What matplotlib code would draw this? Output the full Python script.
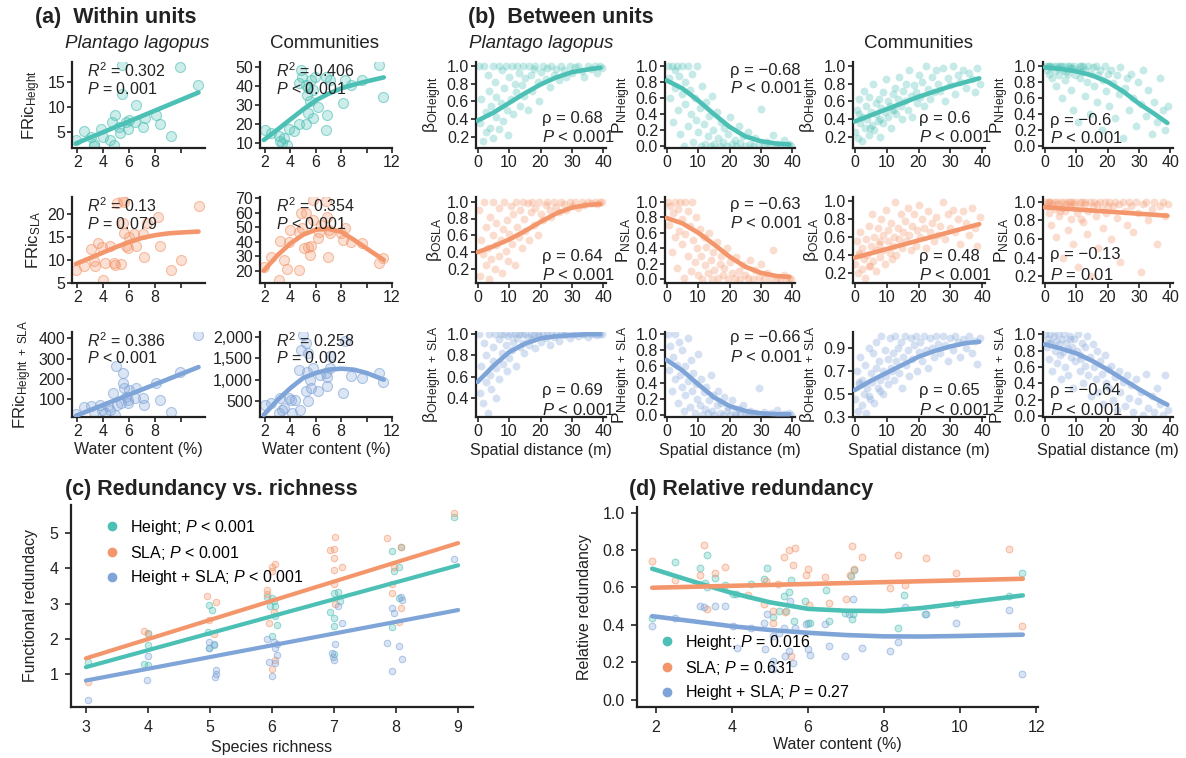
import matplotlib
matplotlib.use('Agg')
import matplotlib.pyplot as plt
from matplotlib.colors import to_rgba
from matplotlib.ticker import FormatStrFormatter, FuncFormatter
from matplotlib.lines import Line2D

plt.rcParams['font.family'] = ['Liberation Sans', 'DejaVu Sans']
plt.rcParams['mathtext.fontset'] = 'custom'
plt.rcParams['mathtext.rm'] = 'Liberation Sans'
plt.rcParams['mathtext.it'] = 'Liberation Sans:italic'
plt.rcParams['mathtext.bf'] = 'Liberation Sans:bold'

TEAL = '#4dc0b5'
ORANGE = '#f4966b'
BLUE = '#7fa4d8'
INK = '#222222'

# ---------------- (a) within units: water content vs FRic ----------------
a_pl_h_x = [1.9, 2.5, 3.1, 3.3, 3.3, 3.8, 4.0, 4.5, 4.7, 4.85, 4.95, 5.2, 5.3, 5.45, 5.45, 5.8, 5.9, 6.0,
            6.45, 6.5, 7.1, 7.2, 8.1, 8.4, 9.2, 9.9, 11.3]
a_pl_h_y = [3.4, 5.3, 4.1, 2.7, 2.3, 5.7, 4.1, 3.4, 7.1, 2.4, 8.4, 6.1, 4.9, 18.4, 12.7, 7.1, 5.7, 7.4,
            7.1, 10.4, 6.1, 7.8, 8.4, 6.7, 4.3, 18.1, 14.4]
a_com_h_x = [2.0, 2.5, 3.1, 3.2, 3.35, 3.5, 3.7, 3.9, 4.3, 4.7, 4.7, 4.8, 4.9, 5.2, 5.2, 5.3, 5.4, 5.4,
             5.55, 5.65, 5.8, 5.8, 5.9, 6.15, 6.8, 6.8, 6.9, 7.1, 8.1, 8.3, 8.8, 9.6, 11.0, 11.3]
a_com_h_y = [16.7, 15.0, 13.4, 11.0, 10.0, 12.6, 9.0, 17.4, 16.0, 41.3, 20.0, 48.3, 44.8, 40.5, 20.0,
             35.2, 38.7, 25.4, 32.1, 43.1, 37.9, 22.8, 44.8, 28.9, 44.8, 16.7, 24.6, 43.1, 30.9, 43.1,
             40.5, 43.1, 50.9, 34.2]
a_pl_sla_x = [1.9, 2.5, 3.1, 3.3, 3.35, 3.6, 3.9, 4.0, 4.15, 4.5, 4.85, 4.9, 5.05, 5.4, 5.5, 5.5, 5.6,
              5.6, 5.8, 5.9, 6.0, 6.4, 6.5, 7.1, 7.15, 7.4, 8.2, 8.4, 9.2, 10.0, 11.35]
a_pl_sla_y = [7.8, 8.6, 12.4, 9.8, 8.6, 13.6, 12.9, 5.5, 9.4, 13.1, 9.3, 8.8, 22.4, 9.1, 23.1, 18.0, 22.8,
              15.8, 13.1, 12.5, 15.1, 15.6, 13.0, 15.6, 10.7, 18.0, 19.3, 13.0, 7.7, 9.9, 21.9]
a_com_sla_x = [1.95, 2.5, 3.1, 3.2, 3.5, 3.7, 3.85, 4.0, 4.7, 4.7, 4.8, 4.9, 5.05, 5.2, 5.4, 5.55, 5.65,
               5.75, 5.75, 6.15, 6.25, 6.4, 6.8, 6.9, 6.95, 7.0, 7.1, 8.0, 8.1, 8.3, 8.8, 9.6, 11.0, 11.3]
a_com_sla_y = [22.5, 29.3, 13.8, 40.9, 27.8, 21.6, 40.2, 48.3, 47.1, 20.5, 59.8, 49.4, 35.6, 59.8, 36.8,
               31.1, 37.2, 69.1, 55.2, 42.5, 47.1, 51.7, 67.9, 57.5, 29.9, 48.3, 46.4, 46.0, 41.4, 49.4,
               40.2, 39.5, 25.2, 28.6]
a_pl_hs_x = [1.9, 2.5, 3.1, 3.3, 3.75, 3.9, 4.15, 4.4, 4.5, 4.75, 4.9, 5.0, 5.1, 5.4, 5.5, 5.5, 5.6, 5.8,
             5.9, 5.9, 6.0, 6.45, 6.5, 7.1, 7.15, 8.1, 8.4, 9.2, 9.9, 11.3]
a_pl_hs_y = [28, 59, 64, 39, 72, 47, 34, 64, 47, 130, 20, 261, 72, 80, 228, 179, 154, 113, 80, 97, 146,
             105, 154, 105, 72, 182, 97, 39, 236, 417]
a_com_hs_x = [2.0, 2.5, 3.1, 3.2, 3.35, 3.5, 3.85, 4.05, 4.1, 4.35, 4.7, 4.75, 4.85, 4.95, 5.2, 5.2, 5.3,
              5.4, 5.4, 5.55, 5.65, 5.8, 6.15, 6.3, 6.8, 6.9, 6.9, 7.1, 7.1, 8.1, 8.3, 8.8, 9.6, 11.0, 11.3]
a_com_hs_y = [423, 476, 228, 577, 306, 345, 577, 539, 228, 539, 1237, 306, 1702, 2050, 1857, 732, 1175,
              1625, 500, 989, 810, 1276, 732, 1120, 1160, 1059, 850, 1276, 1547, 694, 1896, 1082, 1043,
              1160, 942]

# fitted curves
fit_lin_x = [1.9, 11.35]
fit_curve_x = [1.9, 3, 4, 5, 6, 7, 8, 9, 10, 11.35]
fit_pl_h = [2.7, 12.9]
fit_com_h = [11.4, 17, 22.3, 27.5, 32.3, 35.8, 38.6, 40.6, 42.3, 44.4]
fit_pl_sla = [9.1, 10.4, 11.6, 12.8, 13.9, 14.8, 15.4, 15.8, 16.0, 16.2]
fit_com_sla = [20.3, 31, 39, 45, 48.5, 49, 47, 41.5, 35.5, 27.6]
fit_pl_hs = [18, 258]
fit_com_hs = [191, 540, 811, 1044, 1160, 1237, 1260, 1237, 1160, 1005]

# ---------------- (b) between units: spatial distance ----------------
dist_pl = [0.3, 0.9, 1.1, 1.8, 2.0, 2.6, 2.7, 3.3, 3.5, 4.1,
           4.2, 4.9, 5.0, 5.6, 5.8, 6.0, 6.7, 6.9, 7.4, 7.7,
           8.1, 8.3, 9.0, 9.2, 9.8, 10.0, 10.5, 10.9, 11.2, 11.8,
           12.1, 12.4, 13.2, 13.4, 14.0, 14.3, 14.9, 15.2, 15.9, 16.2,
           16.9, 17.3, 18.0, 18.4, 19.1, 19.5, 20.3, 20.7, 21.6, 22.0,
           22.9, 23.4, 24.3, 24.9, 25.9, 26.5, 27.5, 28.2, 29.3, 30.0,
           31.1, 31.9, 33.2, 33.8, 35.1, 35.9, 37.2, 37.8, 38.9, 39.6]
dist_com = [0.2, 0.7, 1.0, 1.4, 1.7, 2.2, 2.4, 2.9, 3.2, 3.6,
            3.9, 4.4, 4.6, 5.1, 5.4, 5.8, 6.1, 6.6, 6.8, 7.3,
            7.6, 8.0, 8.3, 8.8, 9.0, 9.5, 9.8, 10.3, 10.6, 11.1,
            11.4, 11.9, 12.2, 12.7, 13.0, 13.6, 13.9, 14.4, 14.8, 15.3,
            15.7, 16.2, 16.6, 17.1, 17.5, 18.1, 18.5, 19.1, 19.5, 20.1,
            20.6, 21.2, 21.7, 22.4, 22.9, 23.6, 24.1, 24.9, 25.4, 26.2,
            26.8, 27.6, 28.2, 29.1, 29.8, 30.7, 31.4, 32.3, 33.0, 34.0,
            34.8, 35.8, 36.6, 37.6, 38.4, 39.2,
            1.5, 4.8, 8.1, 11.6]

beta_h_pl = [1.0, 0.35, 0.62, 0.15, 1.0, 0.48, 0.25, 0.9, 0.72, 0.3, 0.55,
             1.0, 0.18, 0.82, 0.42, 0.65, 1.0, 0.28, 0.58, 0.95, 0.38,
             0.75, 1.0, 0.5, 0.22, 0.88, 0.62, 1.0, 0.45, 0.8, 0.7,
             1.0, 0.92, 0.55, 0.78, 1.0, 0.66, 0.86, 0.5, 1.0, 0.9,
             0.72, 0.96, 1.0, 0.82, 0.6, 0.93, 1.0, 0.85, 0.98, 0.76,
             1.0, 0.9, 0.97, 0.84, 1.0, 0.95, 0.88, 1.0, 0.92, 0.99,
             1.0, 0.94, 0.87, 1.0, 0.97, 1.0, 0.92, 1.0, 0.98]
pn_h_pl = [1.0, 0.85, 0.6, 1.0, 0.3, 0.95, 0.72, 1.0, 0.45, 0.88, 0.15,
           1.0, 0.65, 0.0, 0.8, 0.52, 1.0, 0.25, 0.7, 0.4, 0.9,
           0.05, 0.6, 0.33, 1.0, 0.18, 0.48, 0.0, 0.75, 0.28, 0.02,
           0.55, 0.12, 0.38, 0.0, 0.62, 0.2, 0.03, 0.42, 0.1, 0.0,
           0.3, 0.05, 0.22, 0.0, 0.15, 0.36, 0.02, 0.08, 0.0, 0.25,
           0.04, 0.12, 0.0, 0.18, 0.03, 0.0, 0.1, 0.02, 0.46, 0.0,
           0.05, 0.0, 0.14, 0.02, 0.0, 0.08, 0.0, 0.03, 0.0]
beta_sla_pl = [0.9, 0.12, 0.55, 0.38, 1.0, 0.25, 0.7, 0.45, 0.08, 0.82, 0.32,
               0.6, 1.0, 0.2, 0.48, 0.75, 0.35, 0.92, 0.55, 0.15, 0.68,
               1.0, 0.42, 0.78, 0.3, 0.62, 0.95, 0.5, 0.85, 0.25, 1.0,
               0.7, 0.58, 0.9, 0.45, 1.0, 0.8, 0.65, 0.98, 0.55, 0.88,
               1.0, 0.72, 0.93, 0.6, 1.0, 0.85, 0.78, 0.96, 1.0, 0.9,
               0.82, 1.0, 0.94, 0.88, 1.0, 0.97, 0.9, 1.0, 0.95, 0.99,
               0.92, 1.0, 0.96, 1.0, 0.98, 1.0, 0.97, 1.0, 1.0]
pn_sla_pl = [1.0, 0.7, 0.95, 0.35, 0.85, 1.0, 0.55, 0.15, 0.9, 0.62, 1.0,
             0.45, 0.78, 0.02, 1.0, 0.58, 0.3, 0.88, 0.68, 0.1, 1.0,
             0.5, 0.22, 0.8, 0.4, 0.05, 0.65, 0.3, 0.0, 0.55, 0.18,
             0.42, 0.08, 0.6, 0.25, 0.0, 0.35, 0.12, 0.48, 0.02, 0.2,
             0.3, 0.05, 0.15, 0.4, 0.0, 0.22, 0.08, 0.02, 0.28, 0.1,
             0.0, 0.18, 0.05, 0.02, 0.25, 0.0, 0.12, 0.03, 0.2, 0.0,
             0.08, 0.0, 0.38, 0.02, 0.0, 0.05, 0.0, 0.02, 0.0]
beta_hs_pl = [1.0, 0.45, 0.7, 0.35, 0.92, 0.55, 0.8, 0.26, 1.0, 0.62, 0.48,
              0.88, 0.75, 1.0, 0.4, 0.68, 0.95, 0.58, 1.0, 0.82, 0.72,
              1.0, 0.9, 0.65, 0.98, 0.78, 1.0, 0.85, 0.93, 1.0, 0.7,
              0.96, 1.0, 0.88, 1.0, 0.92, 0.82, 1.0, 0.97, 0.9, 1.0,
              0.95, 1.0, 0.87, 1.0, 0.98, 0.93, 1.0, 0.96, 1.0, 0.9,
              1.0, 0.97, 1.0, 0.94, 1.0, 0.99, 1.0, 0.96, 1.0, 1.0,
              0.98, 1.0, 1.0, 0.97, 1.0, 1.0, 0.99, 1.0, 1.0]
pn_hs_pl = [1.0, 0.55, 0.85, 0.3, 0.72, 1.0, 0.45, 0.62, 0.15, 0.9, 0.5,
            0.35, 0.8, 0.05, 0.6, 0.25, 0.95, 0.42, 0.1, 0.68, 0.3,
            0.52, 0.02, 0.38, 0.2, 0.75, 0.12, 0.45, 0.0, 0.28, 0.08,
            0.35, 0.02, 0.18, 0.5, 0.05, 0.25, 0.0, 0.12, 0.3, 0.02,
            0.15, 0.0, 0.22, 0.05, 0.1, 0.0, 0.18, 0.03, 0.0, 0.08,
            0.0, 0.12, 0.02, 0.0, 0.05, 0.0, 0.02, 0.33, 0.0, 0.04,
            0.0, 0.02, 0.0, 0.06, 0.0, 0.01, 0.0, 0.02, 0.0]

beta_h_com = [0.25, 0.5, 0.18, 0.62, 0.35, 0.42, 0.15, 0.72, 0.3, 0.55,
              0.4, 0.22, 0.65, 0.48, 0.33, 0.8, 0.27, 0.58, 0.45, 0.38,
              0.62, 0.2, 0.52, 0.7, 0.35, 0.48, 0.85, 0.42, 0.6, 0.55,
              0.3, 0.68, 0.5, 0.75, 0.45, 0.62, 0.88, 0.55, 0.4, 0.72,
              0.6, 0.8, 0.5, 0.95, 0.66, 0.42, 0.78, 0.7, 0.58, 0.9,
              0.65, 0.82, 0.55, 1.0, 0.74, 0.62, 0.88, 0.7, 0.95, 0.8,
              0.72, 0.98, 0.6, 0.86, 0.78, 1.0, 0.68, 0.9, 0.82, 0.95,
              0.75, 0.92, 0.85, 0.7, 0.98, 0.8,
              0.45, 0.3, 0.4, 0.5]
pn_h_com = [1.0, 0.95, 1.0, 0.9, 1.0, 0.98, 0.85, 1.0, 0.93, 0.75,
            1.0, 0.97, 0.88, 1.0, 0.6, 0.95, 1.0, 0.82, 0.92, 1.0,
            0.9, 1.0, 0.7, 0.97, 0.45, 1.0, 0.88, 0.95, 0.3, 1.0,
            0.85, 0.92, 1.0, 0.62, 0.95, 0.8, 1.0, 0.4, 0.9, 0.98,
            0.75, 1.0, 0.55, 0.88, 0.95, 0.2, 0.82, 1.0, 0.68, 0.9,
            0.5, 0.95, 0.78, 0.35, 0.88, 0.65, 0.98, 0.1, 0.72, 0.85,
            0.45, 0.9, 0.6, 0.25, 0.8, 0.52, 0.95, 0.38, 0.7, 0.15,
            0.55, 0.3, 0.85, 0.45, 0.2, 0.5,
            1.0, 1.0, 0.97, 1.0]
beta_sla_com = [0.3, 0.55, 0.2, 0.42, 0.65, 0.25, 0.48, 0.35, 0.15, 0.58,
                0.4, 0.72, 0.28, 0.5, 0.85, 0.33, 0.6, 0.45, 0.22, 0.7,
                0.52, 0.38, 0.8, 0.46, 0.62, 0.3, 0.9, 0.55, 0.68, 0.42,
                0.75, 0.5, 0.6, 0.98, 0.4, 0.7, 0.58, 0.85, 0.48, 0.65,
                0.78, 0.55, 0.92, 0.62, 0.45, 0.72, 0.85, 0.5, 0.68, 0.95,
                0.6, 0.8, 0.7, 0.48, 0.88, 0.65, 0.75, 0.55, 0.82, 0.62,
                0.72, 0.98, 0.58, 0.85, 0.7, 0.9, 0.65, 0.8, 0.52, 0.88,
                0.75, 0.62, 0.92, 0.7, 0.5, 0.82,
                0.4, 0.28, 0.55, 0.35]
pn_sla_com = [1.0, 0.95, 1.0, 0.88, 1.0, 0.75, 0.98, 1.0, 0.92, 0.62,
              1.0, 0.97, 0.85, 1.0, 0.93, 0.4, 1.0, 0.9, 0.98, 0.7,
              1.0, 0.95, 0.82, 1.0, 0.55, 0.97, 1.0, 0.88, 0.3, 1.0,
              0.93, 1.0, 0.78, 0.98, 1.0, 0.65, 0.9, 1.0, 0.2, 0.95,
              1.0, 0.85, 0.97, 0.5, 1.0, 0.92, 0.72, 1.0, 0.88, 0.95,
              1.0, 0.6, 0.95, 1.0, 0.83, 0.98, 0.35, 1.0, 0.9, 0.75,
              1.0, 0.95, 0.68, 1.0, 0.88, 0.25, 0.97, 1.0, 0.8, 0.92,
              1.0, 0.55, 0.95, 1.0, 0.85, 0.98,
              1.0, 0.9, 1.0, 0.82]
beta_hs_com = [0.45, 0.7, 0.35, 0.58, 0.82, 0.4, 0.62, 0.5, 0.75, 0.33,
               0.55, 0.9, 0.48, 0.68, 0.6, 0.85, 0.42, 0.72, 0.95, 0.55,
               0.78, 0.62, 1.0, 0.7, 0.5, 0.88, 0.65, 0.8, 0.58, 0.98,
               0.72, 0.85, 0.62, 1.0, 0.78, 0.9, 0.68, 0.95, 0.55, 0.82,
               1.0, 0.75, 0.88, 0.65, 0.98, 0.8, 0.92, 1.0, 0.7, 0.86,
               0.95, 0.78, 1.0, 0.88, 0.72, 0.98, 0.9, 0.82, 1.0, 0.93,
               0.85, 1.0, 0.92, 0.78, 0.98, 0.88, 1.0, 0.95, 0.82, 0.97,
               0.9, 1.0, 0.85, 0.96, 0.76, 0.98,
               0.6, 0.45, 0.52, 0.7]
pn_hs_com = [1.0, 0.85, 0.95, 0.7, 1.0, 0.9, 0.55, 0.98, 0.8, 0.92,
             0.65, 1.0, 0.88, 0.45, 0.95, 0.78, 1.0, 0.6, 0.9, 0.82,
             0.5, 0.98, 0.72, 0.85, 0.35, 0.95, 0.68, 0.8, 1.0, 0.55,
             0.75, 0.9, 0.4, 0.85, 0.62, 0.98, 0.5, 0.72, 0.25, 0.88,
             0.6, 0.45, 0.8, 0.3, 0.68, 0.52, 0.15, 0.75, 0.4, 0.58,
             0.35, 0.62, 0.2, 0.48, 0.08, 0.55, 0.3, 0.42, 0.12, 0.5,
             0.22, 0.38, 0.05, 0.45, 0.18, 0.3, 0.02, 0.52, 0.1, 0.25,
             0.05, 0.35, 0.15, 0.02, 0.5, 0.08,
             0.9, 0.75, 0.95, 0.7]

fit_d_x = [0, 5, 10, 15, 20, 25, 30, 35, 39]
fit_d_lin = [0, 39]
fit_beta_h_pl = [0.38, 0.47, 0.58, 0.69, 0.79, 0.87, 0.93, 0.96, 0.98]
fit_pn_h_pl = [0.82, 0.72, 0.57, 0.40, 0.24, 0.12, 0.06, 0.03, 0.02]
fit_beta_h_com = [0.37, 0.44, 0.51, 0.58, 0.65, 0.71, 0.77, 0.82, 0.86]
fit_pn_h_com = [0.98, 0.96, 0.93, 0.88, 0.80, 0.68, 0.53, 0.40, 0.29]
fit_beta_sla_pl = [0.40, 0.47, 0.55, 0.65, 0.76, 0.86, 0.93, 0.96, 0.97]
fit_pn_sla_pl = [0.79, 0.72, 0.60, 0.45, 0.29, 0.16, 0.08, 0.04, 0.03]
fit_beta_sla_com = [0.37, 0.74]
fit_pn_sla_com = [0.94, 0.85]
fit_beta_hs_pl = [0.55, 0.70, 0.83, 0.91, 0.96, 0.98, 0.99, 1.0, 1.0]
fit_pn_hs_pl = [0.68, 0.55, 0.38, 0.22, 0.11, 0.05, 0.02, 0.01, 0.01]
fit_beta_hs_com = [0.53, 0.61, 0.68, 0.75, 0.82, 0.87, 0.91, 0.94, 0.95]
fit_pn_hs_com = [0.88, 0.83, 0.77, 0.68, 0.57, 0.45, 0.33, 0.22, 0.14]

# ---------------- (c) redundancy vs richness ----------------
c_h_x = [3.04, 3.93, 4.0, 4.0, 4.0, 4.98, 5.04, 4.97, 5.07, 4.98, 5.92, 5.97, 6.0, 6.03, 6.05, 6.05,
         6.08, 6.0, 6.94, 7.0, 7.07, 7.0, 7.0, 7.0, 7.09, 7.94, 7.97, 8.05, 8.08, 7.94, 8.05, 8.93]
c_h_y = [1.36, 1.3, 1.25, 1.83, 2.16, 2.96, 2.81, 2.2, 1.83, 1.74, 3.2, 2.93, 3.17, 3.07, 2.93, 2.65,
         2.41, 2.08, 2.77, 3.29, 3.34, 2.6, 2.37, 1.57, 3.07, 4.5, 3.93, 4.03, 4.62, 2.35, 3.17, 5.45]
c_s_x = [3.04, 3.93, 4.0, 4.95, 5.1, 4.98, 5.07, 5.92, 5.92, 6.0, 6.05, 6.0, 6.03, 5.95, 6.05, 6.0,
         6.94, 7.0, 7.02, 7.0, 7.0, 7.13, 7.0, 7.02, 7.86, 8.08, 7.97, 7.94, 7.94, 8.08, 8.05, 8.93]
c_s_y = [0.79, 2.22, 2.13, 3.23, 3.05, 2.55, 2.14, 3.38, 3.27, 4.04, 4.13, 3.94, 2.77, 2.45, 1.41, 1.15,
         4.53, 4.55, 4.9, 4.3, 3.97, 4.05, 3.57, 2.98, 4.86, 4.62, 4.03, 3.57, 3.29, 2.89, 2.47, 5.57]
c_hs_x = [3.04, 3.98, 4.0, 4.98, 5.07, 4.98, 5.1, 5.1, 5.08, 5.92, 6.03, 6.08, 6.05, 6.08, 5.95, 6.05,
          6.0, 6.97, 6.99, 7.0, 7.01, 7.07, 7.13, 7.86, 7.94, 7.97, 8.08, 8.1, 8.05, 8.1, 7.94, 8.93]
c_hs_y = [0.27, 0.85, 1.51, 1.92, 1.87, 1.74, 1.13, 1.02, 0.93, 2.01, 1.92, 1.87, 1.74, 1.55, 1.36, 1.33,
          0.96, 1.6, 1.5, 1.4, 1.85, 2.93, 2.45, 1.89, 2.89, 2.73, 3.2, 3.1, 1.8, 1.42, 1.1, 4.26]
fit_c_x = [3, 9]
fit_c_h = [1.2, 4.09]
fit_c_s = [1.45, 4.72]
fit_c_hs = [0.82, 2.82]
c_labels = ['Height; $P$ < 0.001', 'SLA; $P$ < 0.001', 'Height + SLA; $P$ < 0.001']

# ---------------- (d) relative redundancy ----------------
d_h_x = [1.89, 2.51, 3.15, 3.33, 3.28, 3.54, 3.33, 3.81, 4.03, 4.11, 4.49, 4.85, 4.91, 5.07, 5.24, 5.38,
         5.42, 5.51, 5.55, 5.64, 5.93, 5.99, 6.04, 6.47, 6.55, 6.97, 7.12, 7.18, 7.16, 7.2, 8.36, 8.53,
         9.07, 9.88, 11.3, 11.62]
d_h_y = [0.434, 0.737, 0.702, 0.773, 0.624, 0.651, 0.604, 0.612, 0.566, 0.566, 0.62, 0.643, 0.702, 0.443,
         0.473, 0.553, 0.473, 0.575, 0.639, 0.42, 0.527, 0.411, 0.407, 0.584, 0.42, 0.465, 0.66, 0.46,
         0.429, 0.693, 0.384, 0.557, 0.459, 0.511, 0.553, 0.678]
d_s_x = [1.89, 2.51, 3.15, 3.25, 3.33, 3.54, 3.82, 4.43, 4.83, 4.89, 5.07, 5.07, 5.22, 5.38, 5.4, 5.51,
         5.6, 5.67, 5.55, 5.94, 6.01, 6.03, 6.45, 6.55, 6.99, 7.1, 7.16, 7.2, 7.43, 8.15, 8.36, 8.54,
         9.1, 9.9, 11.3, 11.62]
d_s_y = [0.741, 0.639, 0.664, 0.826, 0.485, 0.678, 0.71, 0.558, 0.509, 0.634, 0.411, 0.473, 0.616, 0.764,
         0.468, 0.8, 0.718, 0.809, 0.232, 0.664, 0.7, 0.505, 0.657, 0.518, 0.536, 0.664, 0.821, 0.696,
         0.762, 0.598, 0.775, 0.612, 0.759, 0.675, 0.804, 0.393]
d_hs_x = [1.89, 2.51, 3.15, 3.25, 3.54, 3.82, 4.03, 4.14, 4.5, 4.85, 4.88, 4.91, 5.07, 5.07, 5.07, 5.23,
          5.38, 5.4, 5.51, 5.52, 5.6, 5.67, 5.94, 6.01, 6.04, 6.45, 6.55, 6.97, 7.09, 7.19, 7.43, 8.15,
          8.36, 8.55, 9.1, 9.9, 11.3, 11.62]
d_hs_y = [0.393, 0.438, 0.503, 0.496, 0.503, 0.503, 0.393, 0.273, 0.38, 0.411, 0.268, 0.455, 0.161,
          0.205, 0.339, 0.354, 0.384, 0.232, 0.259, 0.527, 0.196, 0.384, 0.402, 0.268, 0.239, 0.405,
          0.286, 0.232, 0.46, 0.536, 0.277, 0.259, 0.309, 0.494, 0.455, 0.407, 0.478, 0.138]
fit_e_x = [1.9, 3, 4, 5, 6, 7, 8, 9, 10, 11.65]
fit_e_lin = [1.9, 11.65]
fit_d_h = [0.70, 0.63, 0.57, 0.52, 0.485, 0.475, 0.473, 0.49, 0.515, 0.557]
fit_d_s = [0.598, 0.646]
fit_d_hs = [0.446, 0.418, 0.392, 0.372, 0.357, 0.345, 0.338, 0.337, 0.34, 0.347]
d_labels = ['Height; $P$ = 0.016', 'SLA; $P$ = 0.631', 'Height + SLA; $P$ = 0.27']

# ---------------------------------------------------------------
W, H = 1186, 758
fig = plt.figure(figsize=(W / 100, H / 100), dpi=100)


def add_ax(l, t, r, b):
    return fig.add_axes([l / W, 1 - b / H, (r - l) / W, (b - t) / H])


def style(ax, size=11.5, pad=1.5, length=3.5):
    for s in ['top', 'right']:
        ax.spines[s].set_visible(False)
    for s in ['left', 'bottom']:
        ax.spines[s].set_linewidth(1.6)
        ax.spines[s].set_color(INK)
    ax.tick_params(direction='out', length=length, width=1.2, pad=pad, labelsize=size,
                   colors=INK)


def ftext(x, y, s, **kw):
    kw.setdefault('color', INK)
    kw.setdefault('va', 'center')
    fig.text(x / W, 1 - y / H, s, **kw)


# titles
ftext(35, 17, '(a)  Within units', fontsize=15.5, fontweight='bold')
ftext(468, 17, '(b)  Between units', fontsize=15.5, fontweight='bold')
ftext(65, 43, 'Plantago lagopus', fontsize=13.5, style='italic')
ftext(270, 43, 'Communities', fontsize=13.5)
ftext(469, 43, 'Plantago lagopus', fontsize=13.5, style='italic')
ftext(864, 43, 'Communities', fontsize=13.5)
ftext(65, 489, '(c) Redundancy vs. richness', fontsize=15.5, fontweight='bold')
ftext(629, 489, '(d) Relative redundancy', fontsize=15.5, fontweight='bold')

rows = [(62, 148), (197, 283), (332, 417)]
a_cols = [(72, 205), (260, 392)]
b_cols = [(476, 606), (665, 795), (853, 985), (1043, 1173)]

# ---------- (a) ----------
a_panels = [
    (0, 0, a_pl_h_x, a_pl_h_y, fit_lin_x, fit_pl_h, TEAL, (1.8, 19), [5, 10, 15],
     '$R^2$ = 0.302', '$P$ = 0.001', 'FRic$_{\\mathrm{Height}}$'),
    (0, 1, a_com_h_x, a_com_h_y, fit_curve_x, fit_com_h, TEAL, (7.2, 52.5), [10, 20, 30, 40, 50],
     '$R^2$ = 0.406', '$P$ < 0.001', None),
    (1, 0, a_pl_sla_x, a_pl_sla_y, fit_curve_x, fit_pl_sla, ORANGE, (4.9, 23.8), [5, 10, 15, 20],
     '$R^2$ = 0.13', '$P$ = 0.079', 'FRic$_{\\mathrm{SLA}}$'),
    (1, 1, a_com_sla_x, a_com_sla_y, fit_curve_x, fit_com_sla, ORANGE, (11.7, 71), [20, 30, 40, 50, 60, 70],
     '$R^2$ = 0.354', '$P$ < 0.001', None),
    (2, 0, a_pl_hs_x, a_pl_hs_y, fit_lin_x, fit_pl_hs, BLUE, (12, 431), [100, 200, 300, 400],
     '$R^2$ = 0.386', '$P$ < 0.001', 'FRic$_{\\mathrm{Height\\ +\\ SLA}}$'),
    (2, 1, a_com_hs_x, a_com_hs_y, fit_curve_x, fit_com_hs, BLUE, (140, 2110), [500, 1000, 1500, 2000],
     '$R^2$ = 0.258', '$P$ = 0.002', None),
]
a_text_x = [87, 276]
a_text_y = [(71, 89), (206, 224), (341, 358)]

for r, c, x, y, fx, fy, col, ylim, yt, t1, t2, ylab in a_panels:
    ax = add_ax(a_cols[c][0], rows[r][0], a_cols[c][1], rows[r][1])
    style(ax)
    ax.scatter(x, y, s=52, facecolor=to_rgba(col, 0.28), edgecolor=to_rgba(col, 0.6),
               linewidth=0.8, zorder=2)
    ax.plot(fx, fy, color=col, lw=3.3, solid_capstyle='round', zorder=3)
    ax.set_ylim(*ylim)
    ax.set_yticks(yt)
    if c == 0:
        ax.set_xlim(1.6, 11.85)
        ax.set_xticks([2, 4, 6, 8, 10])
        ax.set_xticklabels(['2', '4', '6', '8', ''])
    else:
        ax.set_xlim(1.6, 12.0)
        ax.set_xticks([2, 4, 6, 8, 10, 12])
        ax.set_xticklabels(['2', '4', '6', '8', '', '12'])
    if yt[-1] >= 1000:
        ax.yaxis.set_major_formatter(FuncFormatter(lambda v, p: f'{int(v):,}'))
    if ylab:
        ax.set_ylabel(ylab, fontsize=12, color=INK, labelpad=3)
    if r == 2:
        ax.set_xlabel('Water content (%)', fontsize=11.5, color=INK, labelpad=2)
    ftext(a_text_x[c], a_text_y[r][0], t1, fontsize=11.5)
    ftext(a_text_x[c], a_text_y[r][1], t2, fontsize=11.5)

# ---------- (b) ----------
b_panels = [
    (0, 0, dist_pl, beta_h_pl, fit_d_x, fit_beta_h_pl, TEAL, (0.07, 1.045), [0.2, 0.4, 0.6, 0.8, 1.0],
     'β$_{\\mathrm{OHeight}}$', 'ρ = 0.68', '$P$ < 0.001', 542, (118, 137)),
    (0, 1, dist_pl, pn_h_pl, fit_d_x, fit_pn_h_pl, TEAL, (-0.025, 1.05), [0, 0.2, 0.4, 0.6, 0.8, 1.0],
     'P$_{\\mathrm{NHeight}}$', 'ρ = \u22120.68', '$P$ < 0.001', 730, (70, 88)),
    (0, 2, dist_com, beta_h_com, fit_d_x, fit_beta_h_com, TEAL, (0.07, 1.045), [0.2, 0.4, 0.6, 0.8, 1.0],
     'β$_{\\mathrm{OHeight}}$', 'ρ = 0.6', '$P$ < 0.001', 919, (118, 137)),
    (0, 3, dist_com, pn_h_com, fit_d_x, fit_pn_h_com, TEAL, (-0.02, 1.045), [0, 0.2, 0.4, 0.6, 0.8, 1.0],
     'P$_{\\mathrm{NHeight}}$', 'ρ = \u22120.6', '$P$ < 0.001', 1050, (120, 138)),
    (1, 0, dist_pl, beta_sla_pl, fit_d_x, fit_beta_sla_pl, ORANGE, (0.035, 1.055), [0.2, 0.4, 0.6, 0.8, 1.0],
     'β$_{\\mathrm{OSLA}}$', 'ρ = 0.64', '$P$ < 0.001', 542, (256, 275)),
    (1, 1, dist_pl, pn_sla_pl, fit_d_x, fit_pn_sla_pl, ORANGE, (-0.05, 1.06), [0, 0.2, 0.4, 0.6, 0.8, 1.0],
     'P$_{\\mathrm{NSLA}}$', 'ρ = \u22120.63', '$P$ < 0.001', 730, (205, 223)),
    (1, 2, dist_com, beta_sla_com, fit_d_lin, fit_beta_sla_com, ORANGE, (0.09, 1.04), [0.2, 0.4, 0.6, 0.8, 1.0],
     'β$_{\\mathrm{OSLA}}$', 'ρ = 0.48', '$P$ < 0.001', 919, (256, 275)),
    (1, 3, dist_com, pn_sla_com, fit_d_lin, fit_pn_sla_com, ORANGE, (0.13, 1.05), [0.2, 0.4, 0.6, 0.8, 1.0],
     'P$_{\\mathrm{NSLA}}$', 'ρ = \u22120.13', '$P$ = 0.01', 1050, (255, 275)),
    (2, 0, dist_pl, beta_hs_pl, fit_d_x, fit_beta_hs_pl, BLUE, (0.22, 1.02), [0.4, 0.6, 0.8, 1.0],
     'β$_{\\mathrm{OHeight\\ +\\ SLA}}$', 'ρ = 0.69', '$P$ < 0.001', 542, (390, 410)),
    (2, 1, dist_pl, pn_hs_pl, fit_d_x, fit_pn_hs_pl, BLUE, (-0.025, 1.025), [0, 0.2, 0.4, 0.6, 0.8, 1.0],
     'P$_{\\mathrm{NHeight\\ +\\ SLA}}$', 'ρ = \u22120.66', '$P$ < 0.001', 730, (338, 357)),
    (2, 2, dist_com, beta_hs_com, fit_d_x, fit_beta_hs_com, BLUE, (0.297, 1.035), [0.3, 0.5, 0.7, 0.9],
     'β$_{\\mathrm{OHeight\\ +\\ SLA}}$', 'ρ = 0.65', '$P$ < 0.001', 919, (390, 410)),
    (2, 3, dist_com, pn_hs_com, fit_d_x, fit_pn_hs_com, BLUE, (-0.01, 1.03), [0, 0.2, 0.4, 0.6, 0.8, 1.0],
     'P$_{\\mathrm{NHeight\\ +\\ SLA}}$', 'ρ = \u22120.64', '$P$ < 0.001', 1050, (390, 410)),
]

for r, c, x, y, fx, fy, col, ylim, yt, ylab, t1, t2, tx, ty in b_panels:
    ax = add_ax(b_cols[c][0], rows[r][0], b_cols[c][1], rows[r][1])
    style(ax)
    ax.scatter(x, y, s=32, color=to_rgba(col, 0.32), linewidth=0, zorder=2)
    ax.plot(fx, fy, color=col, lw=3.3, solid_capstyle='round', zorder=3)
    ax.set_xlim(-0.5, 40.8)
    ax.set_xticks([0, 10, 20, 30, 40])
    ax.set_ylim(*ylim)
    ax.set_yticks(yt)
    ax.yaxis.set_major_formatter(FormatStrFormatter('%.1f'))
    ax.set_ylabel(ylab, fontsize=12.5, color=INK, labelpad=2)
    if r == 2:
        ax.set_xlabel('Spatial distance (m)', fontsize=11.5, color=INK, labelpad=3)
    ftext(tx, ty[0], t1, fontsize=12)
    ftext(tx, ty[1], t2, fontsize=12)

# ---------- (c) ----------
ax = add_ax(71, 505, 473, 707)
style(ax, pad=5, length=4)
for x, y, col in [(c_h_x, c_h_y, TEAL), (c_s_x, c_s_y, ORANGE), (c_hs_x, c_hs_y, BLUE)]:
    ax.scatter(x, y, s=22, facecolor=to_rgba(col, 0.3), edgecolor=to_rgba(col, 0.6),
               linewidth=0.7, zorder=2)
for fy, col in [(fit_c_h, TEAL), (fit_c_s, ORANGE), (fit_c_hs, BLUE)]:
    ax.plot(fit_c_x, fy, color=col, lw=3, solid_capstyle='round', zorder=3)
ax.set_xlim(2.76, 9.24)
ax.set_ylim(0.07, 5.8)
ax.set_xticks([3, 4, 5, 6, 7, 8, 9])
ax.set_yticks([1, 2, 3, 4, 5])
ax.set_xlabel('Species richness', fontsize=11.5, color=INK, labelpad=4)
ax.set_ylabel('Functional redundacy', fontsize=11.5, color=INK, labelpad=8)
handles = [Line2D([], [], marker='o', ls='none', color=col, markersize=6) for col in (TEAL, ORANGE, BLUE)]
ax.legend(handles, c_labels, loc='upper left', bbox_to_anchor=(104 / W, 1 - 518 / H),
          bbox_transform=fig.transFigure, frameon=False, fontsize=11.5, borderpad=0,
          handlelength=1.0, handletextpad=0.6, labelspacing=0.42, borderaxespad=0)

# ---------- (d) ----------
ax = add_ax(637, 507, 1038, 707)
style(ax, pad=5, length=4)
for x, y, col in [(d_h_x, d_h_y, TEAL), (d_s_x, d_s_y, ORANGE), (d_hs_x, d_hs_y, BLUE)]:
    ax.scatter(x, y, s=24, facecolor=to_rgba(col, 0.3), edgecolor=to_rgba(col, 0.6),
               linewidth=0.7, zorder=2)
ax.plot(fit_e_x, fit_d_h, color=TEAL, lw=3.3, solid_capstyle='round', zorder=3)
ax.plot(fit_e_lin, fit_d_s, color=ORANGE, lw=3.3, solid_capstyle='round', zorder=3)
ax.plot(fit_e_x, fit_d_hs, color=BLUE, lw=3.3, solid_capstyle='round', zorder=3)
ax.set_xlim(1.5, 12.05)
ax.set_ylim(-0.04, 1.03)
ax.set_xticks([2, 4, 6, 8, 10, 12])
ax.set_yticks([0, 0.2, 0.4, 0.6, 0.8, 1.0])
ax.yaxis.set_major_formatter(FormatStrFormatter('%.1f'))
ax.set_xlabel('Water content (%)', fontsize=11.5, color=INK, labelpad=2)
ax.set_ylabel('Relative redundancy', fontsize=11.5, color=INK, labelpad=7)
handles = [Line2D([], [], marker='o', ls='none', color=col, markersize=6) for col in (TEAL, ORANGE, BLUE)]
ax.legend(handles, d_labels, loc='upper left', bbox_to_anchor=(659 / W, 1 - 633 / H),
          bbox_transform=fig.transFigure, frameon=False, fontsize=11.5, borderpad=0,
          handlelength=1.0, handletextpad=0.6, labelspacing=0.42, borderaxespad=0)

fig.savefig('out.png', dpi=100)
